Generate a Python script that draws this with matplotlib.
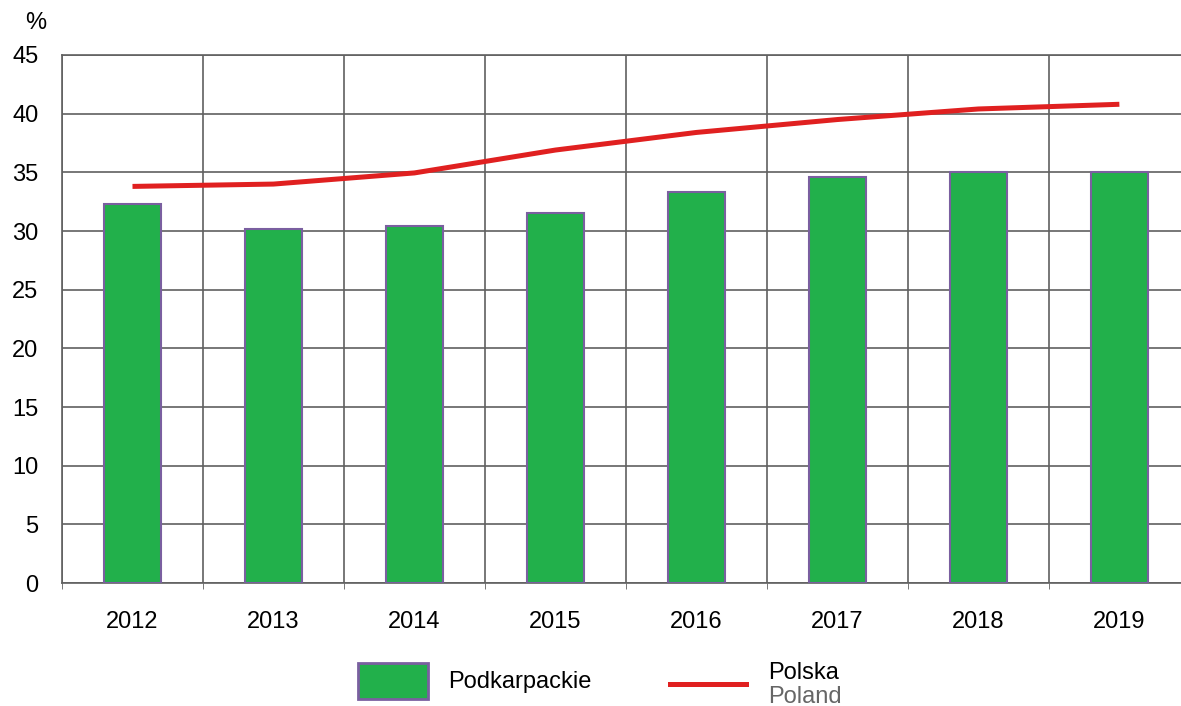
import numpy as np
import matplotlib.pyplot as plt
from matplotlib.patches import Rectangle
from matplotlib.lines import Line2D

plt.rcParams['font.family'] = ['Liberation Sans', 'DejaVu Sans']

years = ['2012', '2013', '2014', '2015', '2016', '2017', '2018', '2019']
podkarpackie = [32.3, 30.2, 30.4, 31.5, 33.3, 34.6, 35.0, 35.0]
polska = [33.8, 34.0, 34.95, 36.9, 38.4, 39.5, 40.4, 40.8]

fig = plt.figure(figsize=(11.81, 7.06), dpi=100)
ax = fig.add_axes([0.0525, 0.1742, 0.955, 0.7479])

x = np.arange(len(years))
ax.bar(x, podkarpackie, 0.4, color='#22b04b', edgecolor='#7a5fa0', linewidth=1.5, zorder=3)
ax.plot(x, polska, color='#e02020', lw=3.6, solid_capstyle='butt', zorder=4)

ax.set_xlim(-0.5, 7.5)
ax.set_ylim(0, 45)
ax.set_yticks(range(0, 46, 5))
ax.set_xticks(x)
ax.set_xticklabels(years)
ax.set_xticks(np.arange(-0.5, 8, 1), minor=True)
ax.tick_params(axis='x', which='major', length=0, pad=20, labelsize=17)
ax.tick_params(axis='x', which='minor', length=4, color='#606060')
ax.tick_params(axis='y', length=0, pad=17, labelsize=17)
ax.grid(True, which='minor', axis='x', color='#606060', lw=1.2, zorder=0)
ax.grid(True, which='major', axis='y', color='#606060', lw=1.2, zorder=0)
for s in ax.spines.values():
    s.set_color('#606060')
    s.set_linewidth(1.2)

fig.text(0.021, 0.968, '%', fontsize=17, ha='left', va='center')

# legend
fig.patches.append(Rectangle((358 / 1181, 1 - 699 / 706), 70 / 1181, 36 / 706,
                             transform=fig.transFigure, facecolor='#22b04b',
                             edgecolor='#7a5fa0', lw=2))
fig.text(448 / 1181, 1 - 682 / 706, 'Podkarpackie', fontsize=17, va='center')
fig.lines.append(Line2D([670 / 1181, 746 / 1181], [1 - 684 / 706, 1 - 684 / 706],
                        transform=fig.transFigure, color='#e02020', lw=3.6))
fig.text(768 / 1181, 1 - 673 / 706, 'Polska', fontsize=17, va='center')
fig.text(768 / 1181, 1 - 697 / 706, 'Poland', fontsize=17, va='center', color='#666666')

fig.savefig('out.png', dpi=100)
